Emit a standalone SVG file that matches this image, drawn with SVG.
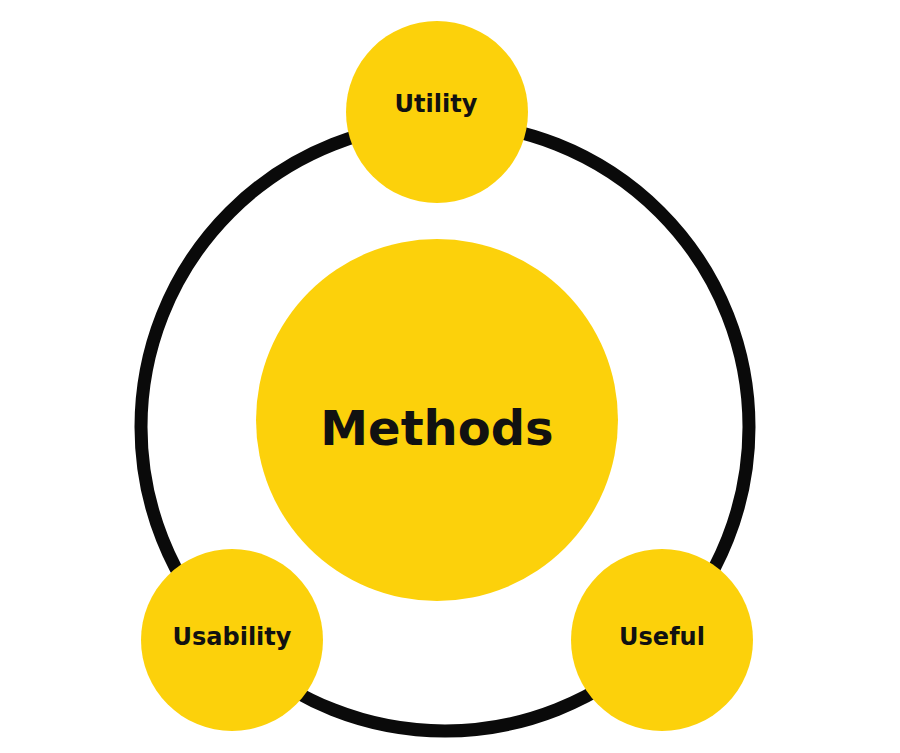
<svg xmlns="http://www.w3.org/2000/svg" width="900" height="753" viewBox="0 0 900 753">
<style>
.n{fill:#FCD10B}
.t{font-family:"DejaVu Sans",Verdana,sans-serif;font-weight:bold;fill:#111;text-anchor:middle}
</style>
<rect width="900" height="753" fill="#fff"/>
<g id="connectors">
<circle cx="445" cy="427" r="304" fill="none" stroke="#0a0a0a" stroke-width="13"/>
</g>
<g id="methods"><circle class="n" cx="437" cy="420" r="181"/><text class="t" x="437" y="445" font-size="48">Methods</text></g>
<g id="utility"><circle class="n" cx="437" cy="112" r="91"/><text class="t" x="436" y="112" font-size="24">Utility</text></g>
<g id="usability"><circle class="n" cx="232" cy="640" r="91"/><text class="t" x="232" y="645" font-size="24">Usability</text></g>
<g id="useful"><circle class="n" cx="662" cy="640" r="91"/><text class="t" x="662" y="645" font-size="24">Useful</text></g>
</svg>
